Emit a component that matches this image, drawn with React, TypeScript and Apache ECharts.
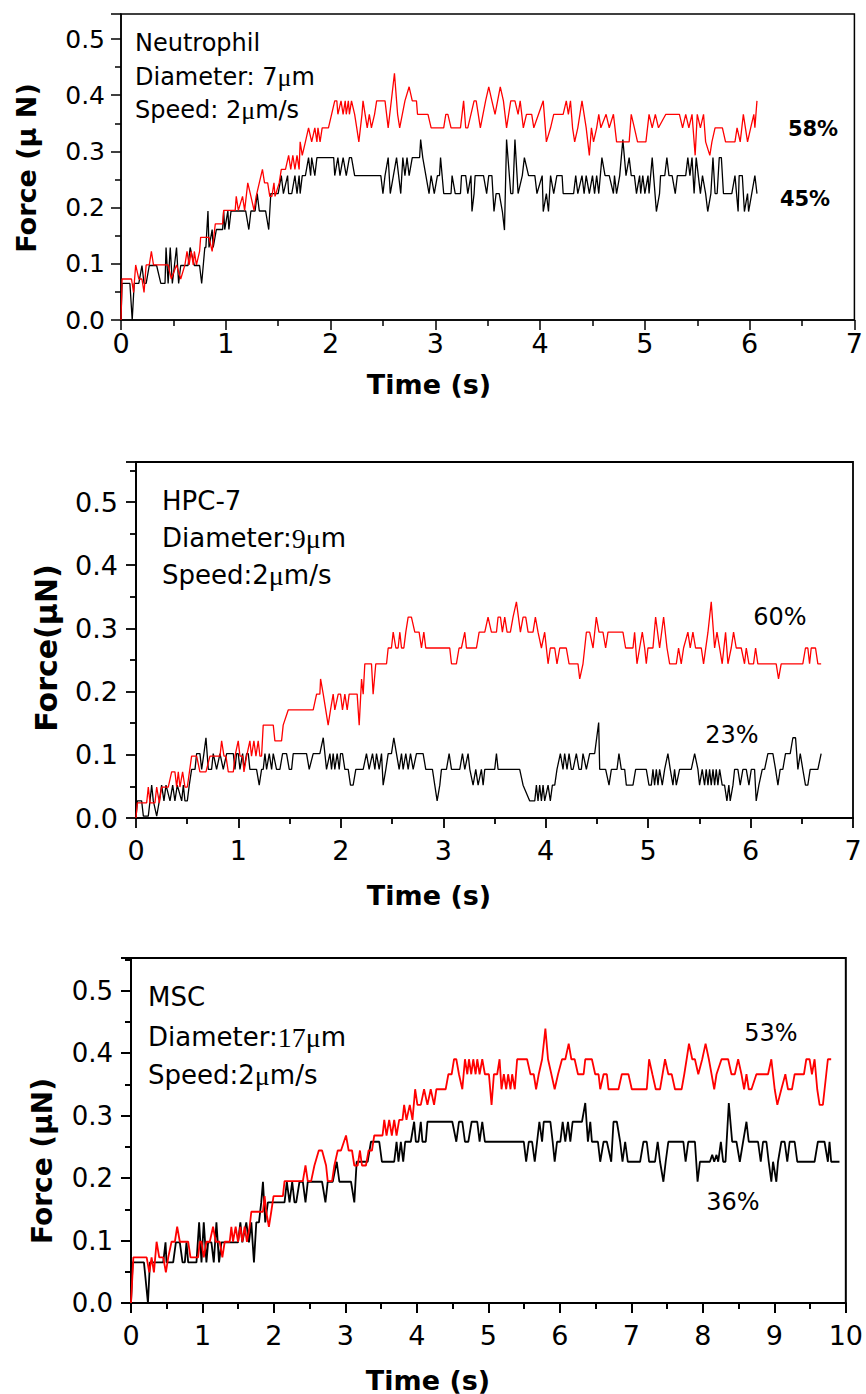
import { useEffect, useRef } from 'react';
import * as echarts from 'echarts';

// ---------- DATA (time s, force µN) ----------
const neutrophilRed: [number, number][] = [
  [0,0],[0.01,0.073],[0.10,0.073],[0.12,0.049],[0.14,0.098],[0.17,0.073],[0.2,0.073],[0.22,0.049],[0.24,0.098],[0.27,0.098],[0.29,0.122],[0.31,0.098],[0.42,0.098],[0.45,0.098],[0.48,0.073],[0.53,0.098],[0.57,0.073],[0.61,0.098],[0.63,0.122],[0.65,0.098],[0.67,0.122],[0.69,0.098],[0.70,0.122],[0.72,0.098],[0.75,0.122],[0.76,0.147],[0.84,0.147],[0.87,0.122],[0.90,0.171],[0.97,0.171],[0.98,0.195],[1.09,0.195],[1.10,0.22],[1.12,0.195],[1.16,0.22],[1.18,0.195],[1.21,0.244],[1.24,0.22],[1.27,0.195],[1.29,0.22],[1.32,0.244],[1.35,0.268],[1.37,0.244],[1.40,0.244],[1.42,0.22],[1.44,0.22],[1.46,0.244],[1.47,0.22],[1.51,0.244],[1.53,0.268],[1.57,0.268],[1.60,0.293],[1.62,0.268],[1.64,0.293],[1.66,0.268],[1.68,0.293],[1.70,0.268],[1.71,0.317],[1.73,0.293],[1.76,0.317],[1.79,0.342],[1.82,0.317],[1.85,0.342],[1.87,0.317],[1.88,0.342],[1.90,0.317],[1.92,0.342],[1.98,0.342],[2.01,0.366],[2.04,0.390],[2.06,0.390],[2.07,0.366],[2.10,0.390],[2.12,0.366],[2.14,0.390],[2.15,0.366],[2.17,0.390],[2.18,0.366],[2.20,0.390],[2.23,0.366],[2.25,0.342],[2.27,0.317],[2.30,0.366],[2.31,0.390],[2.33,0.366],[2.35,0.342],[2.37,0.366],[2.39,0.342],[2.42,0.366],[2.44,0.390],[2.52,0.390],[2.55,0.342],[2.58,0.390],[2.61,0.439],[2.64,0.366],[2.66,0.342],[2.71,0.390],[2.75,0.415],[2.78,0.390],[2.82,0.390],[2.83,0.366],[2.93,0.366],[2.96,0.342],[3.08,0.342],[3.10,0.366],[3.12,0.366],[3.15,0.342],[3.24,0.342],[3.27,0.390],[3.29,0.342],[3.31,0.342],[3.37,0.390],[3.39,0.390],[3.43,0.342],[3.48,0.390],[3.51,0.415],[3.54,0.390],[3.57,0.366],[3.62,0.415],[3.65,0.390],[3.68,0.342],[3.72,0.390],[3.76,0.390],[3.79,0.366],[3.81,0.390],[3.84,0.342],[3.87,0.366],[3.92,0.366],[3.94,0.342],[4.03,0.390],[4.06,0.317],[4.10,0.342],[4.13,0.366],[4.22,0.366],[4.25,0.390],[4.27,0.366],[4.29,0.390],[4.31,0.342],[4.33,0.317],[4.36,0.342],[4.40,0.390],[4.44,0.342],[4.47,0.293],[4.49,0.342],[4.51,0.317],[4.54,0.342],[4.56,0.366],[4.58,0.342],[4.63,0.366],[4.66,0.342],[4.70,0.366],[4.73,0.317],[4.85,0.317],[4.87,0.366],[4.90,0.342],[4.93,0.317],[5.01,0.317],[5.04,0.366],[5.07,0.342],[5.10,0.366],[5.13,0.342],[5.20,0.366],[5.33,0.366],[5.36,0.342],[5.39,0.366],[5.42,0.342],[5.45,0.366],[5.48,0.293],[5.50,0.366],[5.53,0.342],[5.56,0.366],[5.58,0.317],[5.62,0.293],[5.64,0.317],[5.67,0.342],[5.74,0.342],[5.77,0.317],[5.86,0.317],[5.88,0.342],[5.91,0.317],[5.94,0.366],[5.98,0.317],[6.01,0.342],[6.04,0.366],[6.05,0.342],[6.07,0.390]
];
const neutrophilBlack: [number, number][] = [
  [0,0],[0.01,0.065],[0.085,0.065],[0.107,0],[0.126,0.065],[0.17,0.065],[0.2,0.097],[0.22,0.065],[0.24,0.065],[0.27,0.097],[0.34,0.097],[0.38,0.065],[0.42,0.065],[0.43,0.129],[0.45,0.065],[0.47,0.129],[0.49,0.065],[0.51,0.097],[0.53,0.129],[0.55,0.065],[0.57,0.097],[0.64,0.097],[0.66,0.129],[0.70,0.097],[0.75,0.097],[0.77,0.065],[0.80,0.129],[0.81,0.129],[0.83,0.194],[0.84,0.129],[0.87,0.161],[0.88,0.129],[0.91,0.161],[0.97,0.161],[0.98,0.194],[0.99,0.161],[1.02,0.194],[1.03,0.161],[1.05,0.194],[1.19,0.194],[1.22,0.161],[1.24,0.194],[1.28,0.194],[1.30,0.225],[1.32,0.194],[1.38,0.194],[1.41,0.161],[1.43,0.225],[1.50,0.225],[1.53,0.257],[1.55,0.225],[1.59,0.257],[1.60,0.225],[1.63,0.225],[1.66,0.257],[1.68,0.225],[1.70,0.257],[1.71,0.225],[1.73,0.257],[1.76,0.257],[1.79,0.289],[1.81,0.257],[1.82,0.289],[1.85,0.257],[1.87,0.289],[2.03,0.289],[2.04,0.257],[2.07,0.289],[2.09,0.257],[2.12,0.289],[2.15,0.257],[2.18,0.289],[2.20,0.289],[2.23,0.257],[2.48,0.257],[2.50,0.225],[2.52,0.257],[2.55,0.289],[2.57,0.225],[2.60,0.257],[2.63,0.289],[2.67,0.225],[2.69,0.289],[2.71,0.257],[2.73,0.289],[2.75,0.257],[2.78,0.289],[2.85,0.289],[2.86,0.321],[2.88,0.289],[2.91,0.257],[2.94,0.225],[2.96,0.257],[2.99,0.225],[3.02,0.257],[3.04,0.257],[3.05,0.289],[3.08,0.225],[3.15,0.225],[3.16,0.257],[3.19,0.225],[3.24,0.225],[3.25,0.257],[3.29,0.257],[3.31,0.225],[3.34,0.257],[3.35,0.193],[3.37,0.225],[3.38,0.257],[3.46,0.257],[3.49,0.225],[3.51,0.257],[3.54,0.257],[3.56,0.193],[3.58,0.225],[3.61,0.225],[3.64,0.193],[3.66,0.160],[3.68,0.321],[3.72,0.225],[3.74,0.225],[3.76,0.321],[3.79,0.225],[3.83,0.257],[3.85,0.289],[3.89,0.257],[3.95,0.257],[3.97,0.225],[4.02,0.257],[4.03,0.193],[4.06,0.225],[4.08,0.193],[4.10,0.257],[4.13,0.225],[4.16,0.257],[4.21,0.257],[4.22,0.225],[4.32,0.225],[4.34,0.257],[4.36,0.225],[4.40,0.257],[4.42,0.225],[4.44,0.257],[4.47,0.225],[4.50,0.257],[4.52,0.225],[4.54,0.257],[4.56,0.225],[4.59,0.289],[4.62,0.257],[4.66,0.257],[4.70,0.225],[4.71,0.257],[4.73,0.225],[4.76,0.257],[4.79,0.321],[4.82,0.257],[4.85,0.289],[4.87,0.257],[4.90,0.257],[4.92,0.225],[4.95,0.257],[4.96,0.225],[4.98,0.257],[5.00,0.225],[5.03,0.257],[5.04,0.225],[5.07,0.289],[5.11,0.193],[5.14,0.225],[5.15,0.257],[5.19,0.257],[5.21,0.289],[5.23,0.257],[5.26,0.257],[5.29,0.225],[5.31,0.257],[5.39,0.257],[5.41,0.289],[5.43,0.257],[5.45,0.289],[5.47,0.225],[5.49,0.289],[5.51,0.257],[5.53,0.225],[5.55,0.257],[5.58,0.225],[5.60,0.193],[5.63,0.225],[5.65,0.289],[5.67,0.225],[5.69,0.225],[5.71,0.289],[5.73,0.289],[5.75,0.225],[5.83,0.225],[5.86,0.257],[5.89,0.193],[5.90,0.257],[5.93,0.257],[5.95,0.193],[5.98,0.225],[5.99,0.193],[6.02,0.225],[6.05,0.257],[6.07,0.225]
];
const hpcRed: [number, number][] = [
  [0,0],[0.013,0.024],[0.104,0.024],[0.12,0.049],[0.137,0.024],[0.185,0.024],[0.202,0.049],[0.228,0.024],[0.25,0.049],[0.315,0.049],[0.348,0.073],[0.38,0.073],[0.397,0.049],[0.413,0.073],[0.429,0.049],[0.455,0.073],[0.478,0.049],[0.501,0.049],[0.543,0.098],[0.592,0.098],[0.624,0.073],[0.683,0.073],[0.722,0.098],[0.82,0.098],[0.836,0.122],[0.859,0.098],[0.878,0.098],[0.901,0.073],[0.95,0.073],[0.966,0.098],[0.998,0.122],[1.015,0.098],[1.041,0.098],[1.054,0.073],[1.08,0.098],[1.112,0.122],[1.128,0.098],[1.151,0.122],[1.171,0.098],[1.193,0.122],[1.21,0.098],[1.226,0.098],[1.242,0.147],[1.34,0.147],[1.356,0.122],[1.421,0.122],[1.437,0.147],[1.486,0.171],[1.73,0.171],[1.763,0.196],[1.795,0.196],[1.802,0.22],[1.828,0.196],[1.876,0.147],[1.899,0.171],[1.925,0.196],[1.941,0.171],[1.974,0.196],[1.997,0.196],[2.016,0.171],[2.039,0.196],[2.062,0.171],[2.081,0.196],[2.159,0.196],[2.179,0.147],[2.202,0.22],[2.218,0.196],[2.234,0.244],[2.299,0.244],[2.315,0.196],[2.341,0.244],[2.446,0.244],[2.462,0.269],[2.494,0.269],[2.511,0.294],[2.537,0.269],[2.559,0.269],[2.576,0.294],[2.592,0.269],[2.615,0.269],[2.634,0.294],[2.657,0.318],[2.689,0.318],[2.722,0.294],[2.764,0.294],[2.787,0.269],[2.81,0.294],[2.829,0.269],[2.852,0.269],[3.063,0.269],[3.08,0.244],[3.128,0.244],[3.154,0.269],[3.177,0.269],[3.21,0.294],[3.226,0.269],[3.324,0.269],[3.35,0.294],[3.405,0.294],[3.437,0.318],[3.47,0.294],[3.519,0.294],[3.535,0.318],[3.558,0.318],[3.577,0.294],[3.6,0.318],[3.623,0.294],[3.655,0.294],[3.681,0.318],[3.714,0.342],[3.753,0.294],[3.779,0.318],[3.805,0.318],[3.828,0.294],[3.876,0.294],[3.899,0.318],[3.925,0.294],[3.958,0.269],[3.99,0.294],[4.023,0.244],[4.045,0.269],[4.088,0.269],[4.11,0.244],[4.137,0.269],[4.201,0.269],[4.228,0.244],[4.315,0.244],[4.332,0.22],[4.364,0.244],[4.397,0.294],[4.429,0.294],[4.462,0.269],[4.494,0.318],[4.52,0.294],[4.559,0.294],[4.585,0.269],[4.608,0.294],[4.754,0.294],[4.78,0.269],[4.852,0.269],[4.868,0.294],[4.891,0.244],[4.917,0.269],[4.943,0.294],[4.966,0.269],[4.982,0.244],[4.998,0.269],[5.047,0.269],[5.073,0.318],[5.112,0.269],[5.151,0.318],[5.184,0.269],[5.21,0.244],[5.275,0.244],[5.297,0.269],[5.323,0.244],[5.346,0.269],[5.388,0.294],[5.411,0.269],[5.437,0.294],[5.463,0.269],[5.519,0.269],[5.541,0.244],[5.584,0.294],[5.616,0.342],[5.649,0.269],[5.672,0.294],[5.698,0.269],[5.723,0.244],[5.756,0.294],[5.779,0.244],[5.811,0.269],[5.834,0.294],[5.86,0.269],[5.909,0.269],[5.941,0.244],[5.958,0.269],[5.984,0.244],[6.029,0.244],[6.049,0.269],[6.071,0.244],[6.25,0.244],[6.273,0.22],[6.299,0.244],[6.51,0.244],[6.536,0.269],[6.559,0.269],[6.576,0.244],[6.592,0.269],[6.634,0.269],[6.657,0.244],[6.689,0.244]
];
const hpcBlack: [number, number][] = [
  [0,0],[0.013,0.027],[0.055,0.027],[0.072,0.003],[0.12,0.003],[0.137,0.027],[0.153,0.052],[0.169,0.027],[0.202,0.003],[0.228,0.027],[0.25,0.052],[0.273,0.027],[0.293,0.052],[0.332,0.027],[0.358,0.052],[0.38,0.027],[0.403,0.052],[0.446,0.027],[0.462,0.052],[0.478,0.027],[0.501,0.027],[0.52,0.052],[0.543,0.077],[0.576,0.077],[0.592,0.102],[0.624,0.102],[0.641,0.077],[0.663,0.102],[0.683,0.127],[0.706,0.077],[0.738,0.077],[0.754,0.102],[0.787,0.077],[0.82,0.102],[0.852,0.077],[0.885,0.102],[0.95,0.102],[0.966,0.077],[0.982,0.102],[0.998,0.102],[1.015,0.077],[1.041,0.102],[1.054,0.077],[1.08,0.102],[1.096,0.102],[1.112,0.077],[1.177,0.077],[1.203,0.052],[1.226,0.077],[1.242,0.077],[1.259,0.102],[1.275,0.077],[1.301,0.102],[1.324,0.077],[1.34,0.102],[1.372,0.077],[1.405,0.077],[1.431,0.102],[1.47,0.102],[1.496,0.077],[1.519,0.077],[1.535,0.102],[1.665,0.102],[1.691,0.077],[1.73,0.102],[1.795,0.102],[1.828,0.127],[1.86,0.077],[1.893,0.102],[1.909,0.077],[1.925,0.102],[1.941,0.077],[1.964,0.102],[1.984,0.077],[1.997,0.102],[2.016,0.102],[2.039,0.077],[2.072,0.077],[2.094,0.052],[2.12,0.052],[2.146,0.077],[2.218,0.077],[2.25,0.102],[2.276,0.077],[2.309,0.102],[2.332,0.077],[2.348,0.102],[2.374,0.077],[2.397,0.102],[2.413,0.052],[2.439,0.077],[2.462,0.102],[2.494,0.102],[2.517,0.127],[2.543,0.102],[2.569,0.077],[2.592,0.102],[2.608,0.077],[2.634,0.102],[2.657,0.077],[2.68,0.102],[2.706,0.077],[2.738,0.102],[2.803,0.102],[2.829,0.077],[2.894,0.077],[2.917,0.052],[2.94,0.027],[2.966,0.052],[2.982,0.077],[3.031,0.077],[3.057,0.102],[3.08,0.077],[3.161,0.077],[3.187,0.102],[3.21,0.077],[3.242,0.102],[3.259,0.077],[3.291,0.052],[3.317,0.077],[3.34,0.052],[3.372,0.077],[3.389,0.052],[3.405,0.077],[3.502,0.077],[3.519,0.102],[3.535,0.077],[3.746,0.077],[3.779,0.052],[3.844,0.027],[3.893,0.027],[3.909,0.052],[3.925,0.027],[3.941,0.052],[3.958,0.027],[3.974,0.052],[3.99,0.027],[4.023,0.052],[4.045,0.027],[4.065,0.052],[4.088,0.052],[4.11,0.077],[4.143,0.102],[4.169,0.077],[4.185,0.102],[4.208,0.077],[4.228,0.102],[4.25,0.077],[4.267,0.077],[4.299,0.102],[4.325,0.077],[4.348,0.077],[4.364,0.102],[4.397,0.077],[4.429,0.102],[4.478,0.102],[4.517,0.151],[4.527,0.077],[4.585,0.077],[4.618,0.052],[4.641,0.077],[4.696,0.077],[4.715,0.102],[4.738,0.077],[4.771,0.077],[4.787,0.052],[4.852,0.052],[4.878,0.077],[4.982,0.077],[5.008,0.052],[5.031,0.052],[5.047,0.077],[5.063,0.052],[5.08,0.077],[5.096,0.052],[5.112,0.077],[5.138,0.052],[5.161,0.077],[5.193,0.102],[5.216,0.077],[5.242,0.052],[5.258,0.077],[5.275,0.052],[5.307,0.077],[5.421,0.077],[5.454,0.102],[5.486,0.077],[5.502,0.052],[5.528,0.077],[5.551,0.052],[5.567,0.077],[5.584,0.052],[5.6,0.077],[5.616,0.052],[5.633,0.077],[5.649,0.052],[5.665,0.077],[5.681,0.052],[5.698,0.077],[5.723,0.052],[5.746,0.052],[5.769,0.027],[5.788,0.052],[5.801,0.027],[5.828,0.052],[5.844,0.077],[5.876,0.077],[5.899,0.052],[5.925,0.077],[5.958,0.077],[5.984,0.052],[6.007,0.077],[6.039,0.077],[6.055,0.027],[6.081,0.052],[6.114,0.077],[6.137,0.077],[6.169,0.102],[6.218,0.102],[6.244,0.077],[6.267,0.052],[6.289,0.077],[6.315,0.077],[6.341,0.102],[6.387,0.102],[6.413,0.127],[6.439,0.127],[6.462,0.077],[6.485,0.102],[6.51,0.077],[6.536,0.052],[6.559,0.052],[6.582,0.077],[6.657,0.077],[6.689,0.102]
];
const mscRed: [number, number][] = [
  [0,0],[0.033,0.073],[0.219,0.073],[0.256,0.049],[0.288,0.073],[0.321,0.049],[0.358,0.098],[0.395,0.073],[0.451,0.073],[0.488,0.049],[0.521,0.073],[0.567,0.098],[0.614,0.098],[0.646,0.122],[0.683,0.098],[0.8,0.098],[0.832,0.073],[0.939,0.073],[0.962,0.098],[0.986,0.098],[1.018,0.073],[1.055,0.098],[1.102,0.098],[1.148,0.122],[1.186,0.098],[1.241,0.098],[1.278,0.073],[1.311,0.098],[1.381,0.098],[1.404,0.122],[1.427,0.098],[1.464,0.122],[1.497,0.098],[1.53,0.122],[1.557,0.098],[1.59,0.122],[1.622,0.098],[1.66,0.122],[1.683,0.146],[1.846,0.146],[1.869,0.171],[1.892,0.146],[1.929,0.122],[1.962,0.146],[1.994,0.171],[2.125,0.171],[2.148,0.195],[2.404,0.195],[2.441,0.22],[2.473,0.195],[2.52,0.195],[2.566,0.22],[2.627,0.244],[2.673,0.244],[2.729,0.22],[2.752,0.195],[2.813,0.195],[2.845,0.22],[2.892,0.244],[2.938,0.244],[3.008,0.268],[3.045,0.244],[3.092,0.244],[3.124,0.22],[3.171,0.22],[3.203,0.244],[3.231,0.22],[3.287,0.22],[3.324,0.244],[3.371,0.244],[3.403,0.268],[3.519,0.268],[3.543,0.293],[3.575,0.268],[3.612,0.293],[3.649,0.268],[3.682,0.293],[3.715,0.268],[3.752,0.293],[3.798,0.293],[3.821,0.317],[3.854,0.293],[3.9,0.317],[3.938,0.293],[3.975,0.342],[4.007,0.317],[4.054,0.317],[4.1,0.342],[4.147,0.317],[4.193,0.342],[4.24,0.317],[4.272,0.342],[4.402,0.342],[4.44,0.366],[4.486,0.366],[4.519,0.39],[4.551,0.39],[4.588,0.366],[4.635,0.342],[4.672,0.39],[4.705,0.366],[4.728,0.39],[4.76,0.366],[4.788,0.39],[4.821,0.366],[4.844,0.39],[4.877,0.366],[4.914,0.39],[4.951,0.366],[5.007,0.366],[5.044,0.317],[5.077,0.366],[5.123,0.366],[5.156,0.39],[5.183,0.342],[5.216,0.366],[5.249,0.342],[5.276,0.366],[5.309,0.342],[5.332,0.366],[5.369,0.342],[5.402,0.39],[5.541,0.39],[5.588,0.366],[5.634,0.366],[5.667,0.342],[5.704,0.366],[5.751,0.39],[5.797,0.439],[5.834,0.39],[5.881,0.366],[5.927,0.342],[5.974,0.366],[6.03,0.39],[6.076,0.39],[6.123,0.415],[6.16,0.39],[6.206,0.39],[6.253,0.366],[6.332,0.366],[6.355,0.39],[6.448,0.39],[6.494,0.366],[6.541,0.366],[6.564,0.342],[6.611,0.366],[6.657,0.366],[6.68,0.342],[6.82,0.342],[6.866,0.366],[6.959,0.366],[7.006,0.342],[7.215,0.342],[7.248,0.39],[7.294,0.366],[7.341,0.342],[7.401,0.342],[7.471,0.39],[7.517,0.366],[7.564,0.366],[7.61,0.342],[7.703,0.342],[7.74,0.366],[7.773,0.39],[7.806,0.415],[7.852,0.39],[7.889,0.39],[7.936,0.366],[7.991,0.39],[8.038,0.415],[8.084,0.39],[8.122,0.366],[8.159,0.342],[8.191,0.366],[8.261,0.39],[8.354,0.39],[8.4,0.366],[8.447,0.366],[8.494,0.39],[8.54,0.366],[8.577,0.342],[8.61,0.366],[8.642,0.342],[8.68,0.342],[8.749,0.366],[8.912,0.366],[8.958,0.39],[9.005,0.342],[9.042,0.317],[9.098,0.342],[9.154,0.366],[9.191,0.342],[9.247,0.342],[9.284,0.366],[9.414,0.366],[9.447,0.39],[9.493,0.39],[9.526,0.366],[9.563,0.39],[9.6,0.342],[9.633,0.317],[9.679,0.317],[9.726,0.366],[9.749,0.39],[9.795,0.39]
];
const mscBlack: [number, number][] = [
  [0,0],[0.023,0.065],[0.181,0.065],[0.237,0],[0.265,0.065],[0.451,0.065],[0.483,0.097],[0.497,0.065],[0.59,0.065],[0.628,0.097],[0.683,0.097],[0.721,0.065],[0.753,0.065],[0.776,0.097],[0.8,0.065],[0.916,0.065],[0.953,0.129],[0.986,0.065],[1.018,0.129],[1.055,0.065],[1.079,0.097],[1.125,0.097],[1.158,0.065],[1.195,0.129],[1.232,0.065],[1.265,0.097],[1.497,0.097],[1.53,0.129],[1.557,0.097],[1.613,0.129],[1.65,0.097],[1.683,0.129],[1.72,0.065],[1.753,0.129],[1.79,0.129],[1.822,0.161],[1.846,0.194],[1.878,0.129],[1.915,0.161],[2.148,0.161],[2.18,0.194],[2.218,0.161],[2.255,0.194],[2.287,0.161],[2.311,0.161],[2.357,0.194],[2.404,0.194],[2.441,0.161],[2.473,0.194],[2.673,0.194],[2.72,0.161],[2.752,0.194],[2.822,0.194],[2.878,0.226],[2.915,0.194],[3.078,0.194],[3.124,0.161],[3.157,0.226],[3.31,0.226],[3.357,0.258],[3.473,0.258],[3.51,0.226],[3.682,0.226],[3.715,0.258],[3.742,0.226],[3.775,0.258],[3.808,0.226],[3.836,0.258],[3.914,0.258],[3.961,0.29],[3.985,0.258],[4.021,0.258],[4.054,0.29],[4.077,0.258],[4.124,0.258],[4.147,0.29],[4.495,0.29],[4.551,0.258],[4.588,0.29],[4.635,0.29],[4.672,0.258],[4.719,0.258],[4.765,0.29],[4.844,0.29],[4.877,0.258],[4.914,0.29],[4.951,0.258],[5.495,0.258],[5.528,0.226],[5.565,0.258],[5.611,0.258],[5.648,0.226],[5.681,0.258],[5.713,0.29],[5.751,0.258],[5.774,0.29],[5.867,0.29],[5.899,0.258],[5.927,0.226],[5.96,0.258],[6.006,0.258],[6.039,0.29],[6.076,0.258],[6.113,0.29],[6.146,0.258],[6.178,0.29],[6.309,0.29],[6.355,0.32],[6.392,0.258],[6.425,0.29],[6.448,0.258],[6.532,0.258],[6.564,0.226],[6.611,0.258],[6.657,0.258],[6.718,0.226],[6.75,0.29],[6.797,0.29],[6.843,0.258],[6.876,0.226],[6.913,0.258],[6.95,0.226],[7.122,0.226],[7.169,0.258],[7.215,0.258],[7.248,0.226],[7.331,0.226],[7.368,0.258],[7.401,0.226],[7.448,0.194],[7.48,0.226],[7.517,0.258],[7.727,0.258],[7.759,0.226],[7.796,0.258],[7.889,0.258],[7.926,0.194],[7.959,0.226],[8.098,0.226],[8.131,0.237],[8.159,0.226],[8.191,0.237],[8.215,0.226],[8.252,0.258],[8.284,0.226],[8.317,0.226],[8.363,0.32],[8.41,0.258],[8.47,0.258],[8.517,0.226],[8.563,0.258],[8.61,0.29],[8.642,0.258],[8.772,0.258],[8.81,0.226],[8.842,0.258],[8.889,0.258],[8.921,0.226],[8.958,0.194],[8.982,0.226],[9.028,0.194],[9.051,0.226],[9.098,0.258],[9.144,0.258],[9.181,0.226],[9.214,0.258],[9.284,0.258],[9.321,0.226],[9.563,0.226],[9.609,0.258],[9.702,0.258],[9.749,0.226],[9.772,0.258],[9.795,0.226],[9.911,0.226]
];

const cellNames = ['Neutrophil', 'HPC-7', 'MSC'];
const xMaxValues = [7, 7, 10];
const redPercents = ['58%', '60%', '53%'];
const blackPercents = ['45%', '23%', '36%'];
const yTitles = ['Force (\u03bc N)', 'Force(\u03bcN)', 'Force (\u03bcN)'];
const xTitle = 'Time (s)';

const FONT = 'DejaVu Sans';
const SERIF = 'Liberation Serif';

export default function App() {
  const ref = useRef<HTMLDivElement>(null);
  useEffect(() => {
    if (!ref.current) return;
    const chart = echarts.init(ref.current, undefined, { renderer: 'svg' });

    // layout of the three panels (px)
    const grids = [
      { left: 121, top: 14, width: 739, height: 306, yMax: 0.5445, lab: 25, xMargin: 10, yMargin: 16, lw: 1.3, ax: 1.5 },
      { left: 136, top: 462, width: 717, height: 356, yMax: 0.5633, lab: 27, xMargin: 19, yMargin: 18, lw: 1.3, ax: 1.8 },
      { left: 131, top: 958, width: 717, height: 345, yMax: 0.552, lab: 26, xMargin: 19, yMargin: 18, lw: 1.8, ax: 2 },
    ];
    const blackSeries = [neutrophilBlack, hpcBlack, mscBlack];
    const redSeries = [neutrophilRed, hpcRed, mscRed];

    const yFmt = (v: number) => {
      const k = Math.round(v * 10);
      return Math.abs(v * 10 - k) < 1e-6 ? (k / 10).toFixed(1) : '';
    };

    const option: any = {
      animation: false,
      backgroundColor: '#ffffff',
      grid: grids.map((g) => ({
        left: g.left, top: g.top, width: g.width, height: g.height,
        show: true, borderColor: '#000', borderWidth: g.ax, backgroundColor: 'transparent',
        containLabel: false,
      })),
      xAxis: grids.map((g, i) => ({
        type: 'value', gridIndex: i, min: 0, max: xMaxValues[i], interval: 1,
        axisLine: { show: true, onZero: false, lineStyle: { color: '#000', width: g.ax } },
        axisTick: { show: true, inside: false, length: 10, lineStyle: { color: '#000', width: g.ax } },
        minorTick: { show: true, splitNumber: 2, length: 6, lineStyle: { color: '#000', width: g.ax } },
        splitLine: { show: false }, minorSplitLine: { show: false },
        axisLabel: { color: '#000', fontSize: 27, fontFamily: FONT, margin: g.xMargin },
      })),
      yAxis: grids.map((g, i) => ({
        type: 'value', gridIndex: i, min: 0, max: g.yMax, interval: 0.1,
        axisLine: { show: true, onZero: false, lineStyle: { color: '#000', width: g.ax } },
        axisTick: { show: true, inside: false, length: 10, lineStyle: { color: '#000', width: g.ax } },
        minorTick: { show: true, splitNumber: 2, length: 6, lineStyle: { color: '#000', width: g.ax } },
        splitLine: { show: false }, minorSplitLine: { show: false },
        axisLabel: { color: '#000', fontSize: g.lab, fontFamily: FONT, margin: g.yMargin, formatter: yFmt, showMaxLabel: false },
      })),
      series: [
        ...blackSeries.map((d, i) => ({
          type: 'line', xAxisIndex: i, yAxisIndex: i, data: d, showSymbol: false, symbol: 'none',
          lineStyle: { color: '#000000', width: grids[i].lw }, itemStyle: { color: '#000' }, z: 2,
        })),
        ...redSeries.map((d, i) => ({
          type: 'line', xAxisIndex: i, yAxisIndex: i, data: d, showSymbol: false, symbol: 'none',
          lineStyle: { color: '#ff0000', width: grids[i].lw }, itemStyle: { color: '#f00' }, z: 3,
        })),
      ],
    };

    const t = (x: number, y: number, text: string, size: number, o: any = {}) => ({
      type: 'text', x, y, rotation: o.rot || 0, z: 100,
      style: {
        text, fill: '#000', fontFamily: FONT, fontSize: size, fontWeight: o.bold ? 'bold' : 'normal',
        align: o.align || 'left', textAlign: o.align || 'left',
        verticalAlign: 'middle', textVerticalAlign: 'middle',
        rich: o.rich,
      },
    });
    const mu = (size: number) => ({ s: { fontFamily: SERIF, fontSize: size + 2, fill: '#000' } });

    option.graphic = [
      // panel 1
      t(135, 43, cellNames[0], 24),
      t(135, 77, 'Diameter: 7{s|\u03bc}m', 24, { rich: mu(24) }),
      t(135, 110, 'Speed: 2{s|\u03bc}m/s', 24, { rich: mu(24) }),
      t(813, 129, redPercents[0], 21, { bold: true, align: 'center' }),
      t(805, 199, blackPercents[0], 21, { bold: true, align: 'center' }),
      t(26, 168, yTitles[0], 27, { bold: true, align: 'center', rot: Math.PI / 2 }),
      t(429, 384, xTitle, 27, { bold: true, align: 'center' }),
      // panel 2
      t(162, 501, cellNames[1], 26),
      t(162, 538, 'Diameter:{s|9\u03bc}m', 26, { rich: mu(26) }),
      t(162, 575, 'Speed:2{s|\u03bc}m/s', 26, { rich: mu(26) }),
      t(780, 617, redPercents[1], 24, { align: 'center' }),
      t(732, 735, blackPercents[1], 24, { align: 'center' }),
      t(46, 648, yTitles[1], 30, { bold: true, align: 'center', rot: Math.PI / 2 }),
      t(429, 895, xTitle, 27, { bold: true, align: 'center' }),
      // panel 3
      t(148, 997, cellNames[2], 26),
      t(148, 1037, 'Diameter:{s|17\u03bc}m', 26, { rich: mu(26) }),
      t(148, 1075, 'Speed:2{s|\u03bc}m/s', 26, { rich: mu(26) }),
      t(771, 1033, redPercents[2], 24, { align: 'center' }),
      t(733, 1202, blackPercents[2], 24, { align: 'center' }),
      t(42, 1161, yTitles[2], 28, { bold: true, align: 'center', rot: Math.PI / 2 }),
      t(428, 1380, xTitle, 27, { bold: true, align: 'center' }),
    ];

    chart.setOption(option);
    return () => chart.dispose();
  }, []);
  return <div ref={ref} style={{ position: 'absolute', left: 0, top: 0, width: 866, height: 1394, background: '#fff' }} />;
}
